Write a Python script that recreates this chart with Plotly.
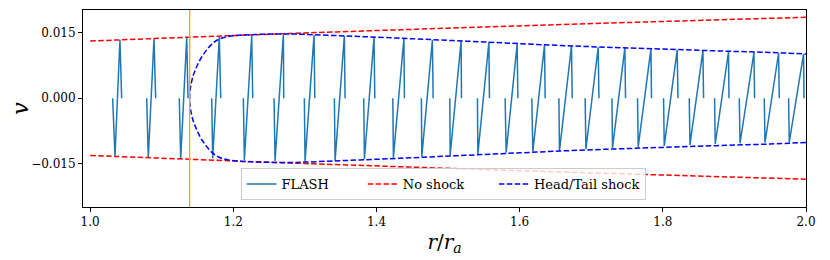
import plotly.graph_objects as go

# ---- data ----
# FLASH saw-teeth: r at start (v=0), at trough, at crest, at end (v=0)
tooth_r_start = [1.0314, 1.0790, 1.1245, 1.1698, 1.2140, 1.2569, 1.2992, 1.3412, 1.3822, 1.4228,
                 1.4627, 1.5024, 1.5410, 1.5797, 1.6170, 1.6548, 1.6915, 1.7289, 1.7646, 1.8010,
                 1.8369, 1.8723, 1.9068, 1.9417, 1.9757]
tooth_r_low = [1.0347, 1.0812, 1.1265, 1.1712, 1.2154, 1.2583, 1.3002, 1.3421, 1.3831, 1.4236,
               1.4633, 1.5029, 1.5416, 1.5811, 1.6184, 1.6556, 1.6925, 1.7297, 1.7656, 1.8020,
               1.8379, 1.8732, 1.9078, 1.9427, 1.9766]
tooth_r_high = [1.0416, 1.0892, 1.1349, 1.1804, 1.2257, 1.2699, 1.3128, 1.3551, 1.3966, 1.4383,
                1.4781, 1.5182, 1.5570, 1.5965, 1.6347, 1.6724, 1.7097, 1.7470, 1.7834, 1.8201,
                1.8560, 1.8918, 1.9273, 1.9617, 1.9966]
tooth_r_end = [1.0440, 1.0915, 1.1367, 1.1824, 1.2271, 1.2704, 1.3138, 1.3561, 1.3976, 1.4390,
               1.4791, 1.5187, 1.5578, 1.5975, 1.6356, 1.6734, 1.7107, 1.7479, 1.7842, 1.8211,
               1.8569, 1.8924, 1.9282, 1.9627, 1.9972]
tooth_v_low = [-0.0133, -0.0136, -0.0139, -0.01374, -0.01413, -0.01436, -0.01451, -0.01436, -0.01398, -0.01360,
               -0.01337, -0.01305, -0.01278, -0.01245, -0.01222, -0.01207, -0.01168, -0.01140, -0.01115, -0.01092,
               -0.01069, -0.01048, -0.01031, -0.01017, -0.01008]
tooth_v_high = [0.01337, 0.01366, 0.01396, 0.01404, 0.01430, 0.01450, 0.01450, 0.01427, 0.01397, 0.01374,
                0.01335, 0.01312, 0.01282, 0.01240, 0.01220, 0.01198, 0.01168, 0.01159, 0.01129, 0.01106,
                0.01090, 0.01067, 0.01044, 0.01030, 0.01014]

# "No shock" envelope (upper branch; lower is its mirror)
noshock_r = [1.0, 1.25, 1.5, 1.75, 2.0]
noshock_v = [0.0131, 0.01465, 0.01604, 0.01733, 0.01853]

# "Head/Tail shock" envelope (upper branch; lower is its mirror)
shock_r = [1.139, 1.1395, 1.1405, 1.142, 1.144, 1.147, 1.151, 1.156, 1.162, 1.170, 1.180, 1.192,
           1.207, 1.225, 1.25, 1.28, 1.30, 1.35, 1.40, 1.45, 1.50, 1.55, 1.60, 1.65, 1.70, 1.75,
           1.80, 1.85, 1.90, 1.95, 2.00]
shock_v = [0.0, 0.0016, 0.0028, 0.0040, 0.0052, 0.0065, 0.0080, 0.0095, 0.0109, 0.0124, 0.0135, 0.0141,
           0.0144, 0.01455, 0.01468, 0.01472, 0.01462, 0.01430, 0.01397, 0.01362, 0.01325, 0.01288,
           0.01250, 0.01213, 0.01180, 0.01152, 0.01125, 0.01098, 0.01072, 0.01048, 0.01012]

shock_front_r = 1.139

series_names = ["FLASH", "No shock", "Head/Tail shock"]

x_tick_vals = [1.0, 1.2, 1.4, 1.6, 1.8, 2.0]
x_tick_text = ["1.0", "1.2", "1.4", "1.6", "1.8", "2.0"]
y_tick_vals = [-0.015, 0.0, 0.015]
y_tick_text = ["\u22120.015", "0.000", "0.015"]

# ---- build traces ----
fx, fy = [], []
for a, b, c, d, vl, vh in zip(tooth_r_start, tooth_r_low, tooth_r_high, tooth_r_end, tooth_v_low, tooth_v_high):
    fx += [a, b, c, d, None]
    fy += [0.0, vl, vh, 0.0, None]

nx = noshock_r + [None] + noshock_r
ny = noshock_v + [None] + [-v for v in noshock_v]

sx = shock_r[::-1] + shock_r[1:]
sy = [-v for v in shock_v[::-1]] + shock_v[1:]

NB = "\u00a0"
DASH = "5.5px,2.4px"
fig = go.Figure()
fig.add_trace(go.Scatter(x=fx, y=fy, mode="lines", name=series_names[0] + NB * 7,
                         line=dict(color="#1f77b4", width=1.5), connectgaps=False))
fig.add_trace(go.Scatter(x=nx, y=ny, mode="lines", name=series_names[1] + NB * 6,
                         line=dict(color="red", width=1.5, dash=DASH, shape="spline"), connectgaps=False))
fig.add_trace(go.Scatter(x=sx, y=sy, mode="lines", name=series_names[2],
                         line=dict(color="blue", width=1.5, dash=DASH, shape="spline")))
fig.add_trace(go.Scatter(x=[shock_front_r, shock_front_r], y=[-0.03, 0.03], mode="lines",
                         showlegend=False, line=dict(color="orange", width=1.3)))

FONT = "DejaVu Serif"
fig.update_layout(
    width=822, height=252,
    margin=dict(l=75, r=24, t=2, b=53, autoexpand=False),
    paper_bgcolor="white", plot_bgcolor="white",
    font=dict(family=FONT, size=12, color="black"),
    showlegend=True,
    legend=dict(orientation="h", x=0.498, y=0.035, xanchor="center", yanchor="bottom",
                bgcolor="rgba(255,255,255,0.8)", bordercolor="#cccccc", borderwidth=1,
                font=dict(family=FONT, size=13), itemwidth=30, traceorder="normal"),
)
fig.update_xaxes(range=[0.99, 2.0], tickvals=x_tick_vals, ticktext=x_tick_text,
                 showgrid=False, zeroline=False, showline=True, linecolor="black", linewidth=1,
                 mirror=True, ticks="outside", ticklen=4, tickcolor="black", automargin=False,
                 title=dict(text="<i>r</i>/<i>r</i><sub><i>a</i></sub>", font=dict(family=FONT, size=20), standoff=6))
fig.update_yaxes(range=[-0.0249, 0.0202], tickvals=y_tick_vals, ticktext=y_tick_text,
                 showgrid=False, zeroline=False, showline=True, linecolor="black", linewidth=1,
                 mirror=True, ticks="outside", ticklen=4, tickcolor="black", automargin=False,
                 title=dict(text="<i>v</i>", font=dict(family=FONT, size=22), standoff=14))

fig.write_html("out.html")
